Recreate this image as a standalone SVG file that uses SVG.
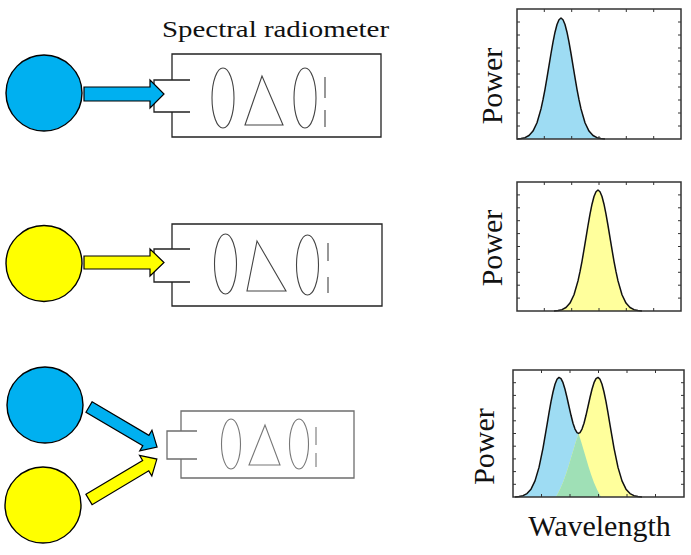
<svg xmlns="http://www.w3.org/2000/svg" xmlns:xlink="http://www.w3.org/1999/xlink" width="691" height="555" viewBox="0 0 691 555">
<style>
  .src { stroke:#000; stroke-width:1.4; }
  .blue { fill:#00b0f0; }
  .yel { fill:#ffff00; }
  .box { fill:none; stroke:#222; stroke-width:1.3; }
  .opt { fill:none; stroke:#444; stroke-width:1.1; }
  .boxg { fill:none; stroke:#6e6e6e; stroke-width:1.3; }
  .optg { fill:none; stroke:#777; stroke-width:1.1; }
  .arr { stroke:#000; stroke-width:1.2; stroke-linejoin:miter; }
  .frame { fill:none; stroke:#333; stroke-width:1.5; }
  .tick { fill:none; stroke:#333; stroke-width:1; }
  .curve { fill:none; stroke:#111; stroke-width:1.5; stroke-linejoin:round; }
  .lbl { font-family:"Liberation Serif","Times New Roman",serif; font-size:30px; fill:#111; }
  .title { font-family:"Liberation Serif","Times New Roman",serif; font-size:24px; fill:#111; }
</style>
<defs>
  <path id="gauss" d="M-44,0 L-40,-0.5 L-36,-1.3 L-32,-3.5 L-28,-7.9 L-24,-16.3 L-20,-30.1 L-18,-39.3 L-16,-49.7 L-14,-61.3 L-12,-73.4 L-10,-85.5 L-8,-96.9 L-6,-106.8 L-4,-114.5 L-2,-119.3 L0,-121 L2,-119.3 L4,-114.5 L6,-106.8 L8,-96.9 L10,-85.5 L12,-73.4 L14,-61.3 L16,-49.7 L18,-39.3 L20,-30.1 L24,-16.3 L28,-7.9 L32,-3.5 L36,-1.3 L40,-0.5 L44,0"/>
</defs>

<text class="title" x="162" y="37" textLength="227" lengthAdjust="spacingAndGlyphs">Spectral radiometer</text>

<!-- sources -->
<g id="source-blue-1"><circle class="src blue" cx="44" cy="93" r="38"/></g>
<g id="source-yellow-2"><circle class="src yel" cx="44" cy="263.5" r="38"/></g>
<g id="source-blue-3"><circle class="src blue" cx="45" cy="405" r="38"/></g>
<g id="source-yellow-3"><circle class="src yel" cx="43" cy="505" r="38"/></g>

<!-- radiometers -->
<g id="radiometer-1">
  <path class="box" d="M172,80 V54 H381 V137 H172 V112"/>
  <path class="box" d="M190,80 H154 V112 H190"/>
  <ellipse class="opt" cx="223" cy="98" rx="11" ry="30"/>
  <polygon class="opt" points="262,76 245,125 283,125"/>
  <ellipse class="opt" cx="305" cy="98" rx="11" ry="30"/>
  <path class="opt" d="M325,77 V98 M325,110 V127"/>
</g>
<g id="radiometer-2">
  <path class="box" d="M172,249 V224 H382 V306 H172 V282"/>
  <path class="box" d="M190,249 H154 V282 H190"/>
  <ellipse class="opt" cx="225.5" cy="264" rx="11" ry="30"/>
  <polygon class="opt" points="257,241 247,291 286,291"/>
  <ellipse class="opt" cx="307.5" cy="265" rx="11" ry="30"/>
  <path class="opt" d="M328,243 V261 M328,277 V293"/>
</g>
<g id="radiometer-3">
  <path class="boxg" d="M181,431 V411 H354 V478 H181 V459"/>
  <path class="boxg" d="M197,431 H167 V459 H197"/>
  <ellipse class="optg" cx="231" cy="444" rx="9.5" ry="25"/>
  <polygon class="optg" points="265,425 249,465 280,465"/>
  <ellipse class="optg" cx="299" cy="444" rx="9.5" ry="25"/>
  <path class="optg" d="M316,427 V445 M316,453 V467"/>
</g>

<!-- connectors -->
<g id="connectors">
  <polygon class="arr blue" points="84,87 150,87 150,80 164,94 150,108 150,101 84,101"/>
  <polygon class="arr yel" points="84,256 150,256 150,249 164,262.5 150,276 150,269 84,269"/>
  <polygon class="arr blue" transform="translate(89,407) rotate(30.5)" points="0,-6 66,-6 66,-12 79,0 66,12 66,6 0,6"/>
  <polygon class="arr yel" transform="translate(89,499.5) rotate(-30.8)" points="0,-6 66,-6 66,-12 79,0 66,12 66,6 0,6"/>
</g>

<!-- plot 1 -->
<g id="plot-1">
  <use xlink:href="#gauss" href="#gauss" transform="translate(561,139)" fill="#9edcf3"/>
  <use xlink:href="#gauss" href="#gauss" transform="translate(561,139)" class="curve"/>
  <rect class="frame" x="517" y="9" width="164" height="130"/>
  <path class="tick" d="M544.3,139 v-3 M571.7,139 v-3 M599,139 v-3 M626.3,139 v-3 M653.7,139 v-3 M544.3,9 v3 M571.7,9 v3 M599,9 v3 M626.3,9 v3 M653.7,9 v3 M517,22 h3 M517,35 h3 M517,48 h3 M517,61 h3 M517,74 h3 M517,87 h3 M517,100 h3 M517,113 h3 M517,126 h3 M681,22 h-3 M681,35 h-3 M681,48 h-3 M681,61 h-3 M681,74 h-3 M681,87 h-3 M681,100 h-3 M681,113 h-3 M681,126 h-3"/>
  <text class="lbl" transform="translate(502,86) rotate(-90)" text-anchor="middle">Power</text>
</g>

<!-- plot 2 -->
<g id="plot-2">
  <use xlink:href="#gauss" href="#gauss" transform="translate(598,311)" fill="#ffff9c"/>
  <use xlink:href="#gauss" href="#gauss" transform="translate(598,311)" class="curve"/>
  <rect class="frame" x="517" y="182" width="164" height="129"/>
  <path class="tick" d="M544.3,311 v-3 M571.7,311 v-3 M599,311 v-3 M626.3,311 v-3 M653.7,311 v-3 M544.3,182 v3 M571.7,182 v3 M599,182 v3 M626.3,182 v3 M653.7,182 v3 M517,194.9 h3 M517,207.8 h3 M517,220.7 h3 M517,233.6 h3 M517,246.5 h3 M517,259.4 h3 M517,272.3 h3 M517,285.2 h3 M517,298.1 h3 M681,194.9 h-3 M681,207.8 h-3 M681,220.7 h-3 M681,233.6 h-3 M681,246.5 h-3 M681,259.4 h-3 M681,272.3 h-3 M681,285.2 h-3 M681,298.1 h-3"/>
  <text class="lbl" transform="translate(502,248) rotate(-90)" text-anchor="middle">Power</text>
</g>

<!-- plot 3 -->
<g id="plot-3">
  <path fill="#9edcf3" d="M515,497 L519,496.5 L523,495.7 L527,493.6 L531,489.2 L535,480.9 L539,467.4 L543,448.1 L547,424.8 L549,412.9 L551,401.7 L553,392 L555,384.2 L557,379.3 L559,377.4 L561,378.6 L563,382.7 L565,389.3 L567,397.5 L569,406.5 L571,415.3 L573,423.2 L575,429.1 L577,432.6 L578.5,433.4 C586,455 590,478 601,497 Z"/>
  <path fill="#ffff9c" d="M556,497 C567,478 571,455 578.5,433.4 L580,432.6 L582,429.1 L584,423.2 L586,415.3 L588,406.5 L590,397.5 L592,389.3 L594,382.7 L596,378.6 L598,377.4 L600,379.3 L602,384.2 L604,392 L606,401.7 L608,412.9 L610,424.8 L614,448.1 L618,467.4 L622,480.9 L626,489.2 L630,493.6 L634,495.7 L638,496.5 L642,497 Z"/>
  <path fill="#9fe0b6" d="M556,497 C567,478 571,455 578.5,433.4 C586,455 590,478 601,497 Z"/>
  <path class="curve" d="M515,497 L519,496.5 L523,495.7 L527,493.6 L531,489.2 L535,480.9 L539,467.4 L543,448.1 L547,424.8 L549,412.9 L551,401.7 L553,392 L555,384.2 L557,379.3 L559,377.4 L561,378.6 L563,382.7 L565,389.3 L567,397.5 L569,406.5 L571,415.3 L573,423.2 L575,429.1 L577,432.6 L578.5,433.4 L580,432.6 L582,429.1 L584,423.2 L586,415.3 L588,406.5 L590,397.5 L592,389.3 L594,382.7 L596,378.6 L598,377.4 L600,379.3 L602,384.2 L604,392 L606,401.7 L608,412.9 L610,424.8 L614,448.1 L618,467.4 L622,480.9 L626,489.2 L630,493.6 L634,495.7 L638,496.5 L642,497"/>
  <rect class="frame" x="513" y="370" width="171" height="127"/>
  <path class="tick" d="M541.5,497 v-3 M570,497 v-3 M598.5,497 v-3 M627,497 v-3 M655.5,497 v-3 M541.5,370 v3 M570,370 v3 M598.5,370 v3 M627,370 v3 M655.5,370 v3 M513,382.7 h3 M513,395.4 h3 M513,408.1 h3 M513,420.8 h3 M513,433.5 h3 M513,446.2 h3 M513,458.9 h3 M513,471.6 h3 M513,484.3 h3 M684,382.7 h-3 M684,395.4 h-3 M684,408.1 h-3 M684,420.8 h-3 M684,433.5 h-3 M684,446.2 h-3 M684,458.9 h-3 M684,471.6 h-3 M684,484.3 h-3"/>
  <text class="lbl" transform="translate(494,446.5) rotate(-90)" text-anchor="middle">Power</text>
  <text class="lbl" x="599.5" y="536" text-anchor="middle">Wavelength</text>
</g>
</svg>
